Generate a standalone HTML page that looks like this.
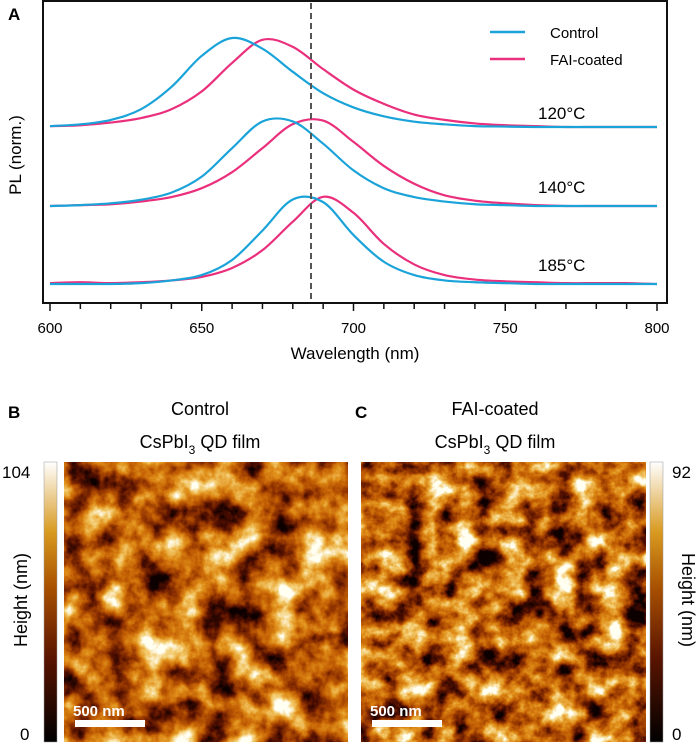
<!DOCTYPE html>
<html><head><meta charset="utf-8"><style>
body{margin:0;background:#fff;width:700px;height:745px;overflow:hidden;font-family:"Liberation Sans",sans-serif}
svg text{font-family:"Liberation Sans",sans-serif}
</style></head><body>
<svg id="fig" width="700" height="745" viewBox="0 0 700 745">
<defs>
<filter id="afm1" x="0" y="0" width="100%" height="100%" color-interpolation-filters="sRGB">
<feTurbulence type="fractalNoise" baseFrequency="0.03" numOctaves="5" seed="3"/>
<feColorMatrix type="matrix" values="1.8 0 0 0 -0.4  1.8 0 0 0 -0.4  1.8 0 0 0 -0.4  0 0 0 0 1"/>
<feComponentTransfer>
<feFuncR type="table" tableValues="0.05 0.32 0.58 0.77 0.88 0.95 1"/>
<feFuncG type="table" tableValues="0.0 0.06 0.21 0.38 0.56 0.78 1"/>
<feFuncB type="table" tableValues="0.0 0.0 0.0 0.02 0.10 0.40 0.95"/>
</feComponentTransfer></filter>
<filter id="afm2" x="0" y="0" width="100%" height="100%" color-interpolation-filters="sRGB">
<feTurbulence type="fractalNoise" baseFrequency="0.04" numOctaves="5" seed="11"/>
<feColorMatrix type="matrix" values="1.8 0 0 0 -0.4  1.8 0 0 0 -0.4  1.8 0 0 0 -0.4  0 0 0 0 1"/>
<feComponentTransfer>
<feFuncR type="table" tableValues="0.05 0.32 0.58 0.77 0.88 0.95 1"/>
<feFuncG type="table" tableValues="0.0 0.06 0.21 0.38 0.56 0.78 1"/>
<feFuncB type="table" tableValues="0.0 0.0 0.0 0.02 0.10 0.40 0.95"/>
</feComponentTransfer></filter>
<linearGradient id="cbar" x1="0" y1="1" x2="0" y2="0">
<stop offset="0" stop-color="#000"/><stop offset="0.3" stop-color="#5a1400"/>
<stop offset="0.55" stop-color="#a85000"/><stop offset="0.75" stop-color="#d89a20"/>
<stop offset="1" stop-color="#fff"/></linearGradient>
</defs>
<text x="8" y="20" font-size="17" font-weight="bold">A</text>
<rect x="43" y="1" width="624" height="302" fill="none" stroke="#111" stroke-width="2"/>
<g id="ticks"></g>
<g id="curves"></g>
<line x1="311" y1="3" x2="311" y2="303" stroke="#555" stroke-width="2" stroke-dasharray="6,4"/>
<text transform="translate(21,155) rotate(-90)" font-size="17" text-anchor="middle">PL (norm.)</text>
<text x="355" y="359" font-size="17" text-anchor="middle">Wavelength (nm)</text>
<g>
<line x1="490" y1="32" x2="525" y2="32" stroke="#1aa3d9" stroke-width="2.5"/>
<text x="550" y="38" font-size="15">Control</text>
<line x1="490" y1="59" x2="525" y2="59" stroke="#ea2f7c" stroke-width="2.5"/>
<text x="550" y="65" font-size="15">FAI-coated</text>
</g>
<text x="538" y="119" font-size="17">120°C</text>
<text x="538" y="193" font-size="17">140°C</text>
<text x="538" y="271" font-size="17">185°C</text>

<text x="8" y="418" font-size="17" font-weight="bold">B</text>
<text x="200" y="415" font-size="18" text-anchor="middle">Control</text>
<text x="200" y="448" font-size="18" text-anchor="middle">CsPbI<tspan font-size="12" dy="6">3</tspan><tspan dy="-6"> QD film</tspan></text>
<text x="355" y="418" font-size="17" font-weight="bold">C</text>
<text x="495" y="415" font-size="18" text-anchor="middle">FAI-coated</text>
<text x="495" y="448" font-size="18" text-anchor="middle">CsPbI<tspan font-size="12" dy="6">3</tspan><tspan dy="-6"> QD film</tspan></text>

<rect x="64" y="462" width="284" height="280" fill="#b06010" filter="url(#afm1)"/>
<rect x="361" y="462" width="285" height="280" fill="#b06010" filter="url(#afm2)"/>
<rect x="75" y="720" width="70" height="7" fill="#fff"/>
<text x="73" y="716" font-size="15" font-weight="bold" fill="#fff">500 nm</text>
<rect x="372" y="720" width="70" height="7" fill="#fff"/>
<text x="370" y="716" font-size="15" font-weight="bold" fill="#fff">500 nm</text>

<rect x="44" y="462" width="13" height="280" fill="url(#cbar)" stroke="#999" stroke-width="0.5"/>
<text x="2" y="478" font-size="17">104</text>
<text x="20" y="740" font-size="17">0</text>
<text transform="translate(27,600) rotate(-90)" font-size="18" text-anchor="middle">Height (nm)</text>
<rect x="650" y="462" width="13" height="280" fill="url(#cbar)" stroke="#999" stroke-width="0.5"/>
<text x="672" y="478" font-size="17">92</text>
<text x="672" y="740" font-size="17">0</text>
<text transform="translate(682,600) rotate(90)" font-size="18" text-anchor="middle">Height (nm)</text>
</svg>
<script>
const wavelengths=[600,610,620,630,640,650,660,670,680,690,700,710,720,730,740,750,760,770,780,790,800];
const control120=[0.01,0.03,0.08,0.2,0.45,0.8,1.0,0.88,0.62,0.38,0.22,0.12,0.06,0.03,0.01,0.005,0,0,0,0,0];
const fai120=[0.01,0.02,0.05,0.1,0.2,0.4,0.72,0.98,0.9,0.65,0.42,0.26,0.14,0.08,0.04,0.02,0.01,0,0,0,0];
const control140=[0,0.01,0.03,0.07,0.15,0.33,0.65,0.95,0.95,0.7,0.4,0.2,0.1,0.05,0.02,0.01,0,0,0,0,0];
const fai140=[0,0.01,0.02,0.05,0.1,0.2,0.38,0.65,0.92,0.96,0.72,0.45,0.25,0.12,0.06,0.03,0.01,0,0,0,0];
const control185=[0,0,0,0.01,0.04,0.1,0.27,0.6,0.95,0.92,0.55,0.25,0.1,0.04,0.02,0.01,0,0,0,0,0];
const fai185=[0.01,0.02,0.01,0.02,0.04,0.08,0.18,0.38,0.7,0.98,0.8,0.45,0.22,0.1,0.05,0.03,0.02,0.01,0.01,0.01,0];
const tickLabels=[600,650,700,750,800];
const NS="http://www.w3.org/2000/svg";
const X0=50,X1=657;
function xs(w){return X0+(w-600)/200*(X1-X0);}
const AMP=89;
function ys(v,base){return base-v*AMP;}
const tg=document.getElementById('ticks');
for(let w=600;w<=800;w+=10){
 const l=document.createElementNS(NS,'line');
 const major=w%50===0;
 l.setAttribute('x1',xs(w));l.setAttribute('x2',xs(w));
 l.setAttribute('y1',303);l.setAttribute('y2',major?311:309);
 l.setAttribute('stroke','#111');l.setAttribute('stroke-width',1.5);
 
 
 tg.appendChild(l);
}
tickLabels.forEach(t=>{
 const tx=document.createElementNS(NS,'text');
 tx.setAttribute('x',xs(t));tx.setAttribute('y',333);
 tx.setAttribute('font-size','15');tx.setAttribute('text-anchor','middle');
 tx.textContent=t;
 
 
 tg.appendChild(tx);
});
const cg=document.getElementById('curves');
function path(vals,base){
 const p=vals.map((v,i)=>[xs(wavelengths[i]),ys(v,base)]);
 let d='M'+p[0][0]+','+p[0][1];
 for(let i=0;i<p.length-1;i++){
  const a=p[Math.max(0,i-1)],b=p[i],c=p[i+1],e=p[Math.min(p.length-1,i+2)];
  const c1x=b[0]+(c[0]-a[0])/6,c1y=b[1]+(c[1]-a[1])/6;
  const c2x=c[0]-(e[0]-b[0])/6,c2y=c[1]-(e[1]-b[1])/6;
  d+=' C'+c1x+','+c1y+' '+c2x+','+c2y+' '+c[0]+','+c[1];
 }
 return d;
}
const series=[[fai120,127,'#ea2f7c','fai-120c'],[control120,127,'#1aa3d9','control-120c'],
 [fai140,206,'#ea2f7c','fai-140c'],[control140,206,'#1aa3d9','control-140c'],
 [fai185,284,'#ea2f7c','fai-185c'],[control185,284,'#1aa3d9','control-185c']];
series.forEach(s=>{
 const el=document.createElementNS(NS,'path');
 el.setAttribute('d',path(s[0],s[1]));
 el.setAttribute('fill','none');el.setAttribute('stroke',s[2]);el.setAttribute('stroke-width',2.2);
 
 
 cg.appendChild(el);
});
</script>
</body></html>
